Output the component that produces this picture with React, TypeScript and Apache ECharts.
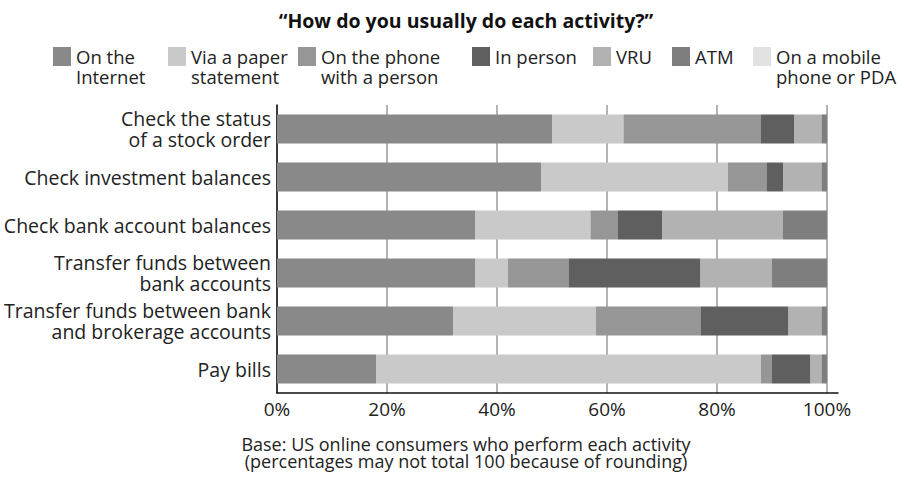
import React, { useEffect, useRef } from "react";
import * as echarts from "echarts";

const categories = [
  "Check the status\nof a stock order",
  "Check investment balances",
  "Check bank account balances",
  "Transfer funds between\nbank accounts",
  "Transfer funds between bank\nand brokerage accounts",
  "Pay bills",
];

const seriesNames = [
  "On the\nInternet",
  "Via a paper\nstatement",
  "On the phone\nwith a person",
  "In person",
  "VRU",
  "ATM",
  "On a mobile\nphone or PDA",
];

const internet = [50, 48, 36, 36, 32, 18];
const paper = [13, 34, 21, 6, 26, 70];
const phone = [25, 7, 5, 11, 19, 2];
const inPerson = [6, 3, 8, 24, 16, 7];
const vru = [5, 7, 22, 13, 6, 2];
const atm = [1, 1, 8, 10, 1, 1];
const mobile = [0, 0, 0, 0, 0, 0];

const xTicks = [0, 20, 40, 60, 80, 100];

const colors = ["#898989", "#c9c9c9", "#969696", "#5f5f5f", "#b2b2b2", "#7e7e7e", "#e2e2e2"];
const legendX = [53, 168, 298, 472, 593, 672, 753];

const FONT = "'Open Sans', 'Noto Sans', sans-serif";

export default function App() {
  const ref = useRef<HTMLDivElement>(null);
  useEffect(() => {
    if (!ref.current) return;
    const chart = echarts.init(ref.current, null, { renderer: "svg" });
    const data = [internet, paper, phone, inPerson, vru, atm, mobile];
    const legendGraphics: any[] = [];
    seriesNames.forEach((n, i) => {
      legendGraphics.push({
        type: "rect",
        shape: { x: legendX[i], y: 47, width: 18, height: 19 },
        style: { fill: colors[i] },
      });
      legendGraphics.push({
        type: "text",
        x: legendX[i] + 23,
        y: 46,
        style: {
          text: n,
          font: `18.5px ${FONT}`,
          fill: "#222",
          lineHeight: 20.5,
          textVerticalAlign: "top",
          textAlign: "left",
        },
      });
    });
    chart.setOption({
      animation: false,
      backgroundColor: "#ffffff",
      textStyle: { fontFamily: FONT },
      title: {
        text: "\u201cHow do you usually do each activity?\u201d",
        left: 461,
        textAlign: "center",
        top: 5,
        textStyle: { fontFamily: FONT, fontSize: 19.5, fontWeight: "bold", color: "#111" },
      },
      grid: { left: 277, right: 66, top: 105, bottom: 88, containLabel: false },
      xAxis: {
        type: "value",
        min: 0,
        max: 102,
        interval: 20,
        axisLine: { show: true, lineStyle: { color: "#111", width: 1.5 } },
        axisTick: { show: false },
        splitLine: { show: true, showMaxLine: false, lineStyle: { color: "#9a9a9a", width: 1.5 } },
        axisLabel: {
          showMaxLabel: false,
          margin: 6,
          fontSize: 19,
          color: "#222",
          fontFamily: FONT,
          formatter: (v: number) => (xTicks.includes(v) ? `${v}%` : ""),
        },
      },
      yAxis: {
        type: "category",
        data: categories,
        inverse: true,
        axisLine: { show: true, lineStyle: { color: "#111", width: 1.5 } },
        axisTick: { show: false },
        axisLabel: {
          margin: 6,
          fontSize: 19.5,
          lineHeight: 20.5,
          color: "#222",
          fontFamily: FONT,
          align: "right",
        },
      },
      series: seriesNames.map((n, i) => ({
        name: n,
        type: "bar",
        stack: "total",
        barWidth: 29,
        data: data[i],
        itemStyle: { color: colors[i] },
      })),
      graphic: [
        ...legendGraphics,
        {
          type: "text",
          x: 466,
          y: 435,
          style: {
            text: "Base: US online consumers who perform each activity\n(percentages may not total 100 because of rounding)",
            font: `18px ${FONT}`,
            fill: "#222",
            lineHeight: 17,
            textAlign: "center",
            textVerticalAlign: "top",
          },
        },
      ],
    });
    return () => chart.dispose();
  }, []);
  return <div ref={ref} style={{ width: 904, height: 481, position: "absolute", left: 0, top: 0 }} />;
}
